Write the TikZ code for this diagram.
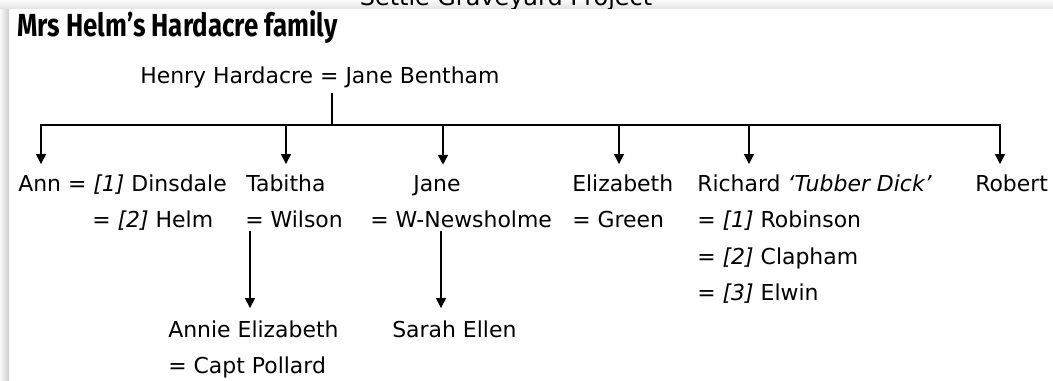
\documentclass[tikz,border=0pt]{standalone}
\usepackage{fontspec}
\usepackage{graphicx}
\setmainfont{DejaVu Sans}
\newfontfamily\titlefont{Fira Sans}
\usetikzlibrary{arrows.meta}

\begin{document}
\begin{tikzpicture}[x=.025cm, y=-.025cm,
    every node/.style={inner sep=0pt, font=\fontsize{15.6}{18}\selectfont},
    kin/.style={anchor=base west},
    link/.style={line width=1.1pt},
    descent/.style={link, -{Triangle[width=7pt, length=7pt]}},
  ]

  \def\rowa{191}
  \def\rowb{227}
  \def\rowc{264}
  \def\rowd{300}
  \def\rowe{337}
  \def\rowf{373}

  \useasboundingbox (0, 0) rectangle (1053, 381);

  \shade[left color=gray!5, right color=gray!40] (0, 9) rectangle (9, 381);
  \shade[top color=gray!5, bottom color=gray!22] (0, 0) rectangle (1053, 9);
  \begin{scope}
    \clip (0, 0) rectangle (1053, 8.5);
    \node (project) [anchor=base, font=\fontsize{17}{20}\selectfont] at (506, 6) {Settle Graveyard Project};
  \end{scope}

  \node (title) [kin, font=\titlefont\bfseries\fontsize{22.7}{26}\selectfont] at (17, 37)
    {\scalebox{.81}[1]{Mrs Helm’s Hardacre family}};

  \node (parents) [kin] at (140, 83) {Henry Hardacre = Jane Bentham};
  \coordinate (fork) at (332, 125);
  \draw[link, shorten <=1.2mm] (parents.south -| fork) -- (fork);

  \node (ann)       [kin] at (18, \rowa)  {Ann = \textit{[1]} Dinsdale};
  \node (helm)      [kin] at (92, \rowb)  {= \textit{[2]} Helm};
  \node (tabitha)   [kin] at (246, \rowa) {Tabitha};
  \node (wilson)    [kin] at (245, \rowb) {= Wilson};
  \node (jane)      [kin] at (413, \rowa) {Jane};
  \node (newsholme) [kin] at (370, \rowb) {= W-Newsholme};
  \node (elizabeth) [kin] at (572, \rowa) {Elizabeth};
  \node (green)     [kin] at (572, \rowb) {= Green};
  \node (richard)   [kin] at (697, \rowa) {Richard \textit{‘Tubber Dick’}};
  \node (robinson)  [kin] at (697, \rowb) {= \textit{[1]} Robinson};
  \node (clapham)   [kin] at (697, \rowc) {= \textit{[2]} Clapham};
  \node (elwin)     [kin] at (697, \rowd) {= \textit{[3]} Elwin};
  \node (robert)    [kin] at (975, \rowa) {Robert};
  \node (annie)     [kin] at (168, \rowe) {Annie Elizabeth};
  \node (pollard)   [kin] at (168, \rowf) {= Capt Pollard};
  \node (sarah)     [kin] at (392, \rowe) {Sarah Ellen};

  \draw[link, line cap=rect] (41, 125) coordinate (bar west) -- (fork) -- (1000, 125) coordinate (bar east);
  \foreach \who/\x in {ann/41, tabitha/286, jane/443, elizabeth/619, richard/749, robert/1000}
    \draw[descent, shorten >=2.5mm] (\x, 125) coordinate (\who drop) -- (\who drop |- \who.north);

  \draw[descent, shorten >=3mm] (250, 231) coordinate (wilson foot) -- (wilson foot |- annie.north);
  \draw[descent, shorten >=3mm] (441, 231) coordinate (newsholme foot) -- (newsholme foot |- sarah.north);

\end{tikzpicture}
\end{document}
